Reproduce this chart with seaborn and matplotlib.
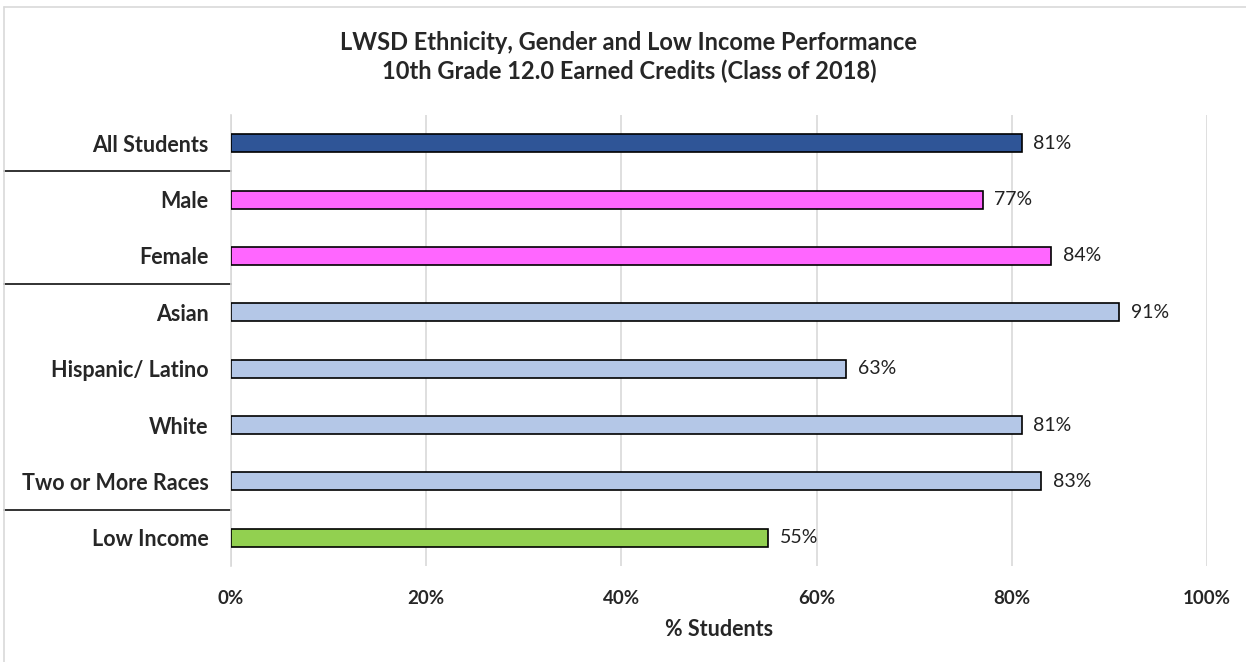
import numpy as np
import pandas as pd
import matplotlib
matplotlib.use('Agg')
import matplotlib.pyplot as plt
import matplotlib.transforms as mtransforms
from matplotlib.ticker import PercentFormatter
import seaborn as sns

groups = ['All Students', 'Male', 'Female', 'Asian', 'Hispanic/ Latino',
          'White', 'Two or More Races', 'Low Income']
percent = [81, 77, 84, 91, 63, 81, 83, 55]
bar_colors = ['#2F5597', '#FF66FF', '#FF66FF', '#B4C7E7', '#B4C7E7',
              '#B4C7E7', '#B4C7E7', '#92D050']
# separators drawn between these category pairs
split_after = ['All Students', 'Female', 'Two or More Races']

df = pd.DataFrame({'Group': groups, 'Pct': percent})

sns.set_theme(style='white')
plt.rcParams['font.family'] = ['Lato', 'DejaVu Sans']

fig = plt.figure(figsize=(12.46, 6.62), dpi=100)
ax = fig.add_axes([231 / 1246, 1 - 566 / 662, 976 / 1246, 451 / 662])

sns.barplot(data=df, x='Pct', y='Group', hue='Group', palette=bar_colors,
            legend=False, width=0.32, edgecolor='black', linewidth=1.2,
            saturation=1, ax=ax, zorder=3)

ax.set_xlim(0, 100)
ax.set_ylim(len(groups) - 0.5, -0.5)
ax.set_xticks(np.arange(0, 101, 20))
ax.xaxis.set_major_formatter(PercentFormatter(decimals=0))
ax.grid(axis='x', color='#D9D9D9', linewidth=1.2, zorder=0)
for s in ['top', 'right', 'bottom']:
    ax.spines[s].set_visible(False)
ax.spines['left'].set_color('#D9D9D9')
ax.spines['left'].set_linewidth(1.2)
ax.tick_params(axis='both', length=0)
ax.tick_params(axis='x', pad=17, labelsize=13.5)
ax.tick_params(axis='y', pad=16, labelsize=15.5)
for lbl in ax.get_xticklabels() + ax.get_yticklabels():
    lbl.set_fontweight('bold')
ax.set_ylabel('')
ax.set_xlabel('% Students', fontsize=15.5, fontweight='bold', labelpad=9)

for i, v in enumerate(percent):
    ax.annotate(f'{v}%', xy=(v, i), xytext=(8.5, 0), textcoords='offset points',
                va='center', ha='left', fontsize=14, color='#222222')

trans = mtransforms.blended_transform_factory(ax.transAxes, ax.transData)
for g in split_after:
    y = groups.index(g) + 0.5
    ax.plot([-227 / 976, 0], [y, y], transform=trans, color='#222222',
            linewidth=1.3, clip_on=False)

fig.text(629 / 1246, 1 - 57 / 662,
         'LWSD Ethnicity, Gender and Low Income Performance\n'
         '10th Grade 12.0 Earned Credits (Class of 2018)',
         ha='center', va='center', fontsize=17, fontweight='bold',
         linespacing=1.3)

# chart frame edges
fig.add_artist(plt.Line2D([4 / 1246, 4 / 1246], [0, 1 - 7 / 662],
                          transform=fig.transFigure, color='#D9D9D9', linewidth=1.2))
fig.add_artist(plt.Line2D([4 / 1246, 1], [1 - 7 / 662, 1 - 7 / 662],
                          transform=fig.transFigure, color='#D9D9D9', linewidth=1.2))

fig.savefig('out.png', dpi=100, facecolor='white')
